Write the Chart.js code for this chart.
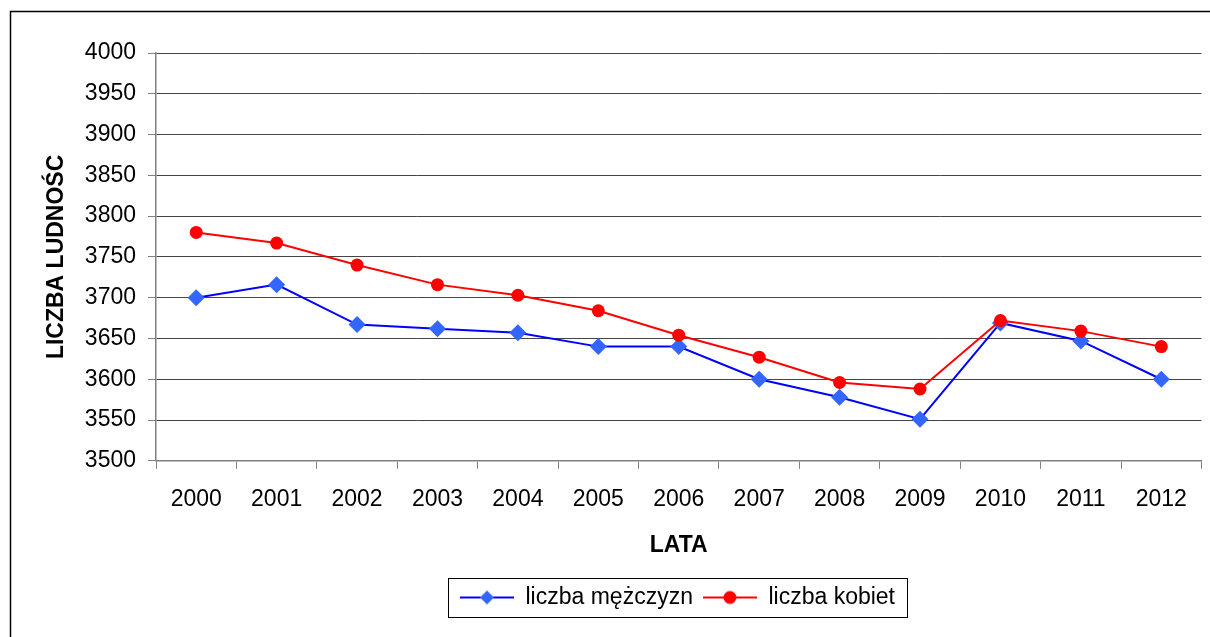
<!DOCTYPE html>
<html>
<head>
<meta charset="utf-8">
<script src="https://cdn.jsdelivr.net/npm/chart.js@4"></script>
<style>
  body { margin: 0; background: #fff; }
  #wrap { width: 1210px; height: 637px; }
</style>
</head>
<body>
<div id="wrap"><canvas id="chart" width="1210" height="637"></canvas></div>
<script>
const years = ['2000', '2001', '2002', '2003', '2004', '2005', '2006', '2007', '2008', '2009', '2010', '2011', '2012'];
const men = [3700, 3716, 3667, 3662, 3657, 3640, 3640, 3600, 3578, 3551, 3669, 3647, 3600];
const women = [3780, 3767, 3740, 3716, 3703, 3684, 3654, 3627, 3596, 3588, 3672, 3659, 3640];
const yTicks = [3500, 3550, 3600, 3650, 3700, 3750, 3800, 3850, 3900, 3950, 4000];

const FONT = 'Liberation Sans, Arial, sans-serif';

// little legend pictures: line with the marker in the middle
function legendMark(lineColor, fill, shape) {
    const c = document.createElement('canvas');
    c.width = 54;
    c.height = 16;
    const g = c.getContext('2d');
    g.strokeStyle = lineColor;
    g.lineWidth = 2;
    g.beginPath();
    g.moveTo(0, 8);
    g.lineTo(54, 8);
    g.stroke();
    g.fillStyle = fill;
    g.beginPath();
    if (shape === 'diamond') {
        g.moveTo(27, 1);
        g.lineTo(34, 8);
        g.lineTo(27, 15);
        g.lineTo(20, 8);
    } else {
        g.arc(27, 8, 6.5, 0, Math.PI * 2);
    }
    g.closePath();
    g.fill();
    return c;
}

const LEGEND_SHIFT = 67;

const frame = {
    id: 'frame',
    afterLayout(chart) {
        // legend sits under the plot area, not under the whole canvas
        const lg = chart.legend;
        lg.left += LEGEND_SHIFT;
        lg.right += LEGEND_SHIFT;
        lg.legendHitBoxes.forEach(b => { b.left += LEGEND_SHIFT; });
    },
    beforeDraw(chart) {
        const ctx = chart.ctx;
        ctx.save();
        ctx.strokeStyle = '#000';
        ctx.lineWidth = 1.5;
        ctx.strokeRect(10.5, 11.5, 1300, 700);
        ctx.restore();
    },
    afterDraw(chart) {
        const lg = chart.legend;
        if (!lg || !lg.legendHitBoxes.length) return;
        const boxes = lg.legendHitBoxes;
        const x0 = Math.min(...boxes.map(b => b.left)) - 12;
        const x1 = Math.max(...boxes.map(b => b.left + b.width)) + 12;
        const y0 = Math.min(...boxes.map(b => b.top)) - 8;
        const y1 = Math.max(...boxes.map(b => b.top + b.height)) + 8;
        const ctx = chart.ctx;
        ctx.save();
        ctx.strokeStyle = '#000';
        ctx.lineWidth = 1;
        ctx.strokeRect(Math.round(x0) + 0.5, Math.round(y0) + 0.5, Math.round(x1 - x0), Math.round(y1 - y0));
        ctx.restore();
    }
};

const ctx = document.getElementById('chart').getContext('2d');
new Chart(ctx, {
    type: 'line',
    data: {
        labels: years,
        datasets: [
            {
                label: 'liczba mężczyzn',
                data: men,
                borderColor: '#0000ff',
                backgroundColor: '#3366ff',
                borderWidth: 2,
                pointStyle: 'rectRot',
                pointRadius: 8.5,
                pointBorderWidth: 0,
                pointBackgroundColor: '#3366ff',
                order: 2,
                fill: false
            },
            {
                label: 'liczba kobiet',
                data: women,
                borderColor: '#ff0000',
                backgroundColor: '#ff0000',
                borderWidth: 2,
                pointStyle: 'circle',
                pointRadius: 6.5,
                pointBorderWidth: 0,
                pointBackgroundColor: '#ff0000',
                order: 1,
                fill: false
            }
        ]
    },
    options: {
        responsive: false,
        animation: false,
        layout: { padding: { left: 11, top: 53, right: 0, bottom: 18 } },
        plugins: {
            tooltip: { enabled: false },
            legend: {
                position: 'bottom',
                labels: {
                    color: '#000',
                    font: { family: FONT, size: 23 },
                    usePointStyle: true,
                    pointStyleWidth: 54,
                    padding: 10,
                    sort: (a, b) => a.datasetIndex - b.datasetIndex,
                    generateLabels: chart => [
                        { text: 'liczba mężczyzn', datasetIndex: 0, pointStyle: legendMark('#0000ff', '#3366ff', 'diamond'), fillStyle: '#3366ff', strokeStyle: '#0000ff', lineWidth: 0, fontColor: '#000' },
                        { text: 'liczba kobiet', datasetIndex: 1, pointStyle: legendMark('#ff0000', '#ff0000', 'circle'), fillStyle: '#ff0000', strokeStyle: '#ff0000', lineWidth: 0, fontColor: '#000' }
                    ]
                }
            }
        },
        scales: {
            x: {
                offset: true,
                grid: {
                    offset: true,
                    drawOnChartArea: false,
                    drawTicks: true,
                    tickLength: 8,
                    color: '#808080'
                },
                border: { color: '#808080', width: 1.5 },
                ticks: {
                    color: '#000',
                    font: { family: FONT, size: 23 },
                    padding: 17,
                    maxRotation: 0
                },
                title: {
                    display: true,
                    text: 'LATA',
                    color: '#000',
                    font: { family: FONT, size: 23, weight: 'bold' },
                    padding: { top: 1, bottom: 17 }
                }
            },
            y: {
                min: 3500,
                max: 4000,
                afterBuildTicks: scale => { scale.ticks = yTicks.map(v => ({ value: v })); },
                afterFit: scale => { scale.width = 145; },
                grid: {
                    color: '#444',
                    tickLength: 8,
                    tickColor: '#808080'
                },
                border: { color: '#808080', width: 1.5 },
                ticks: {
                    color: '#000',
                    font: { family: FONT, size: 23 },
                    padding: 12,
                    callback: v => String(v)
                },
                title: {
                    display: true,
                    text: 'LICZBA LUDNOŚC',
                    color: '#000',
                    font: { family: FONT, size: 23, weight: 'bold' },
                    padding: { top: 32, bottom: 0 }
                }
            }
        }
    },
    plugins: [frame]
});
</script>
</body>
</html>
